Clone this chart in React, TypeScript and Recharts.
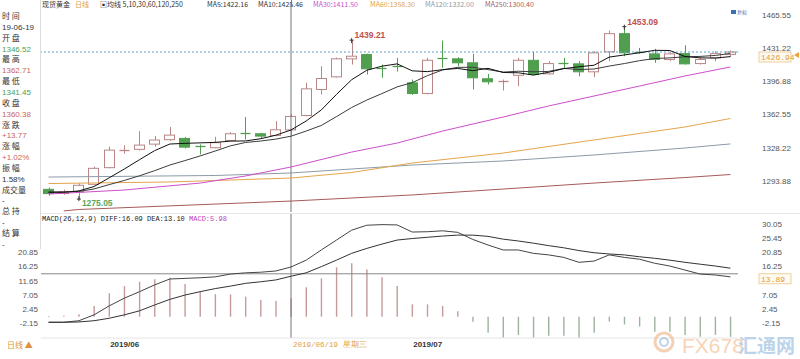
import React from "react";
import {
  ComposedChart,
  Bar,
  Line,
  XAxis,
  YAxis,
  ReferenceLine,
  ReferenceDot,
  Cell,
} from "recharts";

// trading days shown (index 16 = crosshair day)
const dates = [
  "2019/05/28", "2019/05/29", "2019/05/30", "2019/05/31",
  "2019/06/03", "2019/06/04", "2019/06/05", "2019/06/06", "2019/06/07",
  "2019/06/10", "2019/06/11", "2019/06/12", "2019/06/13", "2019/06/14",
  "2019/06/17", "2019/06/18", "2019/06/19", "2019/06/20", "2019/06/21",
  "2019/06/24", "2019/06/25", "2019/06/26", "2019/06/27", "2019/06/28",
  "2019/07/01", "2019/07/02", "2019/07/03", "2019/07/04", "2019/07/05",
  "2019/07/08", "2019/07/09", "2019/07/10", "2019/07/11", "2019/07/12",
  "2019/07/15", "2019/07/16", "2019/07/17", "2019/07/18", "2019/07/19",
  "2019/07/22", "2019/07/23", "2019/07/24", "2019/07/25", "2019/07/26",
  "2019/07/29", "2019/07/30",
];

const opens = [
  1285.1, 1280.8, 1282.7, 1290.3, 1307.5, 1325.2, 1326.4, 1331.8, 1336.4, 1337.7,
  1329.5, 1328.1, 1335.6, 1343.2, 1342.5, 1340.8, 1346.52, 1361.4, 1388.2, 1401.3,
  1419.9, 1424.3, 1410.2, 1412.4, 1395.1, 1384.1, 1420.6, 1419.9, 1415.8, 1399.3,
  1396.3, 1402.9, 1418.4, 1404.4, 1415.6, 1414.7, 1406.5, 1427.1, 1445.9, 1427.0,
  1425.0, 1419.2, 1425.3, 1415.0, 1420.9, 1424.5,
];
const highs = [
  1287.0, 1284.8, 1291.3, 1308.6, 1329.2, 1330.5, 1345.2, 1340.1, 1349.4, 1339.2,
  1331.5, 1339.4, 1344.2, 1359.7, 1343.5, 1355.6, 1362.71, 1395.1, 1412.3, 1421.2,
  1439.21, 1425.3, 1414.0, 1420.9, 1398.5, 1420.9, 1438.8, 1421.5, 1425.0, 1404.4,
  1398.5, 1420.9, 1427.1, 1417.4, 1420.9, 1417.4, 1427.7, 1449.1, 1453.09, 1431.2,
  1430.2, 1426.7, 1433.9, 1421.5, 1427.7, 1428.5,
];
const lows = [
  1278.5, 1279.5, 1275.05, 1289.3, 1306.8, 1321.9, 1325.3, 1329.2, 1335.1, 1327.4,
  1321.2, 1327.4, 1334.6, 1336.6, 1337.4, 1339.8, 1341.45, 1360.4, 1383.1, 1400.6,
  1414.0, 1403.7, 1400.3, 1406.8, 1382.6, 1383.1, 1410.6, 1412.3, 1388.2, 1393.4,
  1387.2, 1391.6, 1402.7, 1403.7, 1409.9, 1401.9, 1400.9, 1417.4, 1422.6, 1425.0,
  1415.8, 1417.4, 1414.0, 1414.0, 1417.4, 1422.0,
];
const closes = [
  1280.7, 1282.6, 1289.3, 1306.8, 1325.6, 1326.2, 1330.8, 1336.0, 1341.1, 1328.7,
  1328.8, 1333.3, 1342.5, 1342.3, 1340.1, 1346.61, 1360.38, 1388.9, 1399.6, 1419.9,
  1422.6, 1409.6, 1409.6, 1411.6, 1384.1, 1418.4, 1420.0, 1415.8, 1400.3, 1396.2,
  1396.8, 1418.4, 1403.7, 1415.0, 1415.0, 1406.5, 1426.1, 1445.9, 1426.1, 1426.4,
  1419.2, 1425.0, 1414.7, 1419.2, 1425.3, 1426.94,
];

const ma5 = [
  1282.0, 1282.0, 1283.5, 1288.0, 1297.0, 1306.1, 1315.7, 1325.1, 1331.9, 1332.6,
  1333.1, 1333.6, 1334.9, 1335.1, 1337.4, 1341.0, 1346.4, 1355.7, 1367.1, 1383.1,
  1398.3, 1408.1, 1412.3, 1414.7, 1407.5, 1406.7, 1408.7, 1410.0, 1407.7, 1410.1,
  1405.8, 1405.5, 1403.1, 1406.0, 1409.8, 1411.7, 1413.3, 1421.7, 1423.9, 1426.2,
  1428.7, 1428.5, 1422.3, 1420.9, 1420.7, 1422.2,
];
const ma10 = [
  1282.5, 1282.5, 1283.0, 1285.5, 1290.0, 1294.3, 1299.1, 1304.4, 1310.2, 1314.8,
  1319.6, 1324.7, 1330.0, 1333.5, 1335.0, 1337.0, 1340.0, 1345.3, 1351.1, 1360.2,
  1369.6, 1377.3, 1384.0, 1390.9, 1395.3, 1402.5, 1408.4, 1411.1, 1411.2, 1408.8,
  1406.2, 1407.1, 1406.5, 1406.9, 1410.0, 1408.8, 1409.4, 1412.4, 1415.0, 1418.0,
  1420.2, 1420.9, 1422.0, 1422.4, 1423.4, 1425.5,
];

// longer averages, read at a few candles
const ma30Pts: [number, number][] = [
  [0, 1280.3], [5, 1284.4], [10, 1291.6], [13, 1298.9], [16, 1308.2], [20, 1323.6],
  [23, 1332.9], [26, 1345.3], [30, 1359.8], [33, 1371.2], [36, 1381.5], [39, 1391.8],
  [42, 1402.2], [45, 1411.5],
];
const ma60Pts: [number, number][] = [
  [0, 1291.1], [8, 1292.7], [16, 1296.8], [20, 1302.5], [24, 1312.3], [30, 1322.6],
  [36, 1336.1], [42, 1349.5], [45, 1358.3],
];
const ma120Pts: [number, number][] = [
  [0, 1297.8], [11, 1299.4], [16, 1302.0], [24, 1310.2], [30, 1314.4], [36, 1320.6],
  [42, 1327.8], [45, 1332.0],
];
const ma250Pts: [number, number][] = [
  [1, 1262.8], [2, 1264.3], [16, 1273.0], [24, 1279.3], [30, 1285.4], [36, 1291.6],
  [42, 1297.3], [45, 1300.4],
];

const diff = [
  -1.8, -1.8, -1.3, 0.6, 3.5, 6.0, 8.1, 10.3, 12.2, 12.4,
  12.6, 12.9, 13.8, 14.2, 14.4, 14.8, 16.09, 18.3, 21.6, 24.8,
  28.0, 29.6, 29.8, 29.7, 27.4, 27.5, 27.8, 27.3, 25.0, 23.2,
  21.6, 21.6, 20.5, 20.0, 19.2, 17.6, 18.0, 20.0, 19.2, 18.6,
  17.3, 16.4, 15.1, 13.8, 13.5, 12.9,
];
const dea = [
  -1.8, -1.8, -1.7, -1.3, -0.5, 0.6, 1.9, 3.8, 5.6, 7.0,
  8.1, 9.1, 9.9, 10.8, 11.3, 11.9, 13.1, 14.2, 16.2, 18.3,
  20.5, 22.1, 23.5, 24.8, 25.3, 25.7, 26.1, 26.4, 26.4, 26.0,
  25.1, 24.5, 23.8, 23.0, 22.3, 21.4, 20.7, 20.3, 20.0, 19.4,
  18.9, 18.3, 17.6, 17.0, 16.4, 15.7,
];
const hist = [
  0.2, 0.3, 0.8, 3.5, 7.6, 9.9, 11.3, 12.1, 12.6, 10.6,
  8.1, 7.3, 7.2, 6.5, 5.4, 5.1, 5.98, 9.5, 12.4, 16.0,
  17.3, 15.3, 12.8, 9.9, 4.0, 4.0, 3.5, 1.8, -1.6, -5.2,
  -6.8, -5.9, -6.8, -6.2, -6.2, -6.8, -5.2, -1.6, -2.5, -3.2,
  -4.9, -4.9, -5.9, -6.5, -5.9, -6.5,
];

const priceTicks = [1465.55, 1431.22, 1396.88, 1362.55, 1328.22, 1293.88];
const macdTicksLeft = [30.05, 25.45, 20.85, 16.25, 11.65, 7.05, 2.45, -2.15];
const macdTicksRight = [30.05, 25.45, 20.85, 16.25, 7.05, 2.45, -2.15];
const monthLabels: Record<number, string> = { 4: "2019/06", 24: "2019/07" };
const cursorIndex = 16;
const cursorLabel = "2019/06/19 星期三";
const lastPrice = 1426.94;
const cursorMacd = 13.89;

const infoRows: [string, string][] = [
  ["时 间", "#333"], ["19-06-19", "#333"],
  ["开 盘", "#333"], ["1346.52", "#4e9e4e"],
  ["最 高", "#333"], ["1362.71", "#c86464"],
  ["最 低", "#333"], ["1341.45", "#4e9e4e"],
  ["收 盘", "#333"], ["1360.38", "#c86464"],
  ["涨 跌", "#333"], ["+13.77", "#c86464"],
  ["涨 幅", "#333"], ["+1.02%", "#c86464"],
  ["振 幅", "#333"], ["1.58%", "#333"],
  ["成交量", "#333"], ["-", "#333"],
  ["总 持", "#333"], ["-", "#333"],
  ["结 算", "#333"], ["-", "#333"],
];

const legendItems: [number, string, string][] = [
  [42, "#333", "现货黄金"],
  [75, "#e0a040", "日线"],
  [100, "#333", "▣均线 5,10,30,60,120,250"],
  [207, "#333", "MA5:1422.16"],
  [258, "#333", "MA10:1425.46"],
  [313, "#cc4fcc", "MA30:1411.50"],
  [370, "#e2a54a", "MA60:1358.30"],
  [425, "#8d9aa8", "MA120:1332.00"],
  [485, "#a85a5a", "MA250:1300.40"],
];

const UP = "#b98585";
const DOWN = "#4f9f4f";
const NUM = "'Liberation Sans', Arial, sans-serif";
const CJK = "'Noto Sans CJK SC', 'Liberation Sans', sans-serif";
const MONO = "'Liberation Mono', 'DejaVu Sans Mono', monospace";

const lookup = (pts: [number, number][]) => {
  const m = new Map(pts);
  return (i: number) => (m.has(i) ? (m.get(i) as number) : null);
};
const l30 = lookup(ma30Pts);
const l60 = lookup(ma60Pts);
const l120 = lookup(ma120Pts);
const l250 = lookup(ma250Pts);

const priceData = dates.map((date, i) => ({
  date,
  open: opens[i],
  high: highs[i],
  low: lows[i],
  close: closes[i],
  range: [lows[i], highs[i]],
  ma5: ma5[i],
  ma10: ma10[i],
  ma30: l30(i),
  ma60: l60(i),
  ma120: l120(i),
  ma250: l250(i),
}));

const macdData = dates.map((date, i) => ({
  date,
  diff: diff[i],
  dea: dea[i],
  hist: hist[i],
}));

const Candle = (props: any) => {
  const { x, y, width, height, payload } = props;
  const { open, close, high, low } = payload;
  const top = Math.min(y, y + height);
  const h = Math.abs(height);
  const k = high === low ? 0 : h / (high - low);
  const yO = top + (high - open) * k;
  const yC = top + (high - close) * k;
  const cx = Math.round(x + width / 2) + 0.5;
  const up = close >= open;
  const color = up ? UP : DOWN;
  const bTop = Math.min(yO, yC);
  const bBot = Math.max(yO, yC);
  const bx = Math.round(x) + 0.5;
  const bw = Math.round(width) - 1;
  if (bBot - bTop < 1.5) {
    return (
      <g>
        <line x1={cx} x2={cx} y1={top} y2={top + h} stroke={color} />
        <line x1={bx} x2={bx + bw} y1={Math.round(bTop) + 0.5} y2={Math.round(bTop) + 0.5} stroke={color} strokeWidth={1.3} />
      </g>
    );
  }
  return (
    <g>
      <line x1={cx} x2={cx} y1={top} y2={bTop} stroke={color} />
      <line x1={cx} x2={cx} y1={bBot} y2={top + h} stroke={color} />
      <rect
        x={bx}
        y={bTop}
        width={bw}
        height={bBot - bTop}
        fill={up ? "#fff" : color}
        stroke={color}
      />
    </g>
  );
};

const HighMark = ({ cx, cy, text }: any) => (
  <g>
    <line x1={cx - 2} x2={cx + 2} y1={cy} y2={cy} stroke="#333" />
    <line x1={cx} x2={cx} y1={cy - 2} y2={cy + 3} stroke="#333" />
    <text x={cx + 3} y={cy - 2} fontSize={8.5} fontWeight={600} fill="#c0504d" fontFamily={NUM}>
      {text}
    </text>
  </g>
);

const LowMark = ({ cx, cy, text }: any) => (
  <g>
    <line x1={cx - 2} x2={cx + 2} y1={cy} y2={cy} stroke="#333" />
    <line x1={cx} x2={cx} y1={cy - 3} y2={cy + 2} stroke="#333" />
    <text x={cx + 3} y={cy + 7} fontSize={8.5} fontWeight={600} fill="#5aa55a" fontFamily={NUM}>
      {text}
    </text>
  </g>
);

const PriceTick = (p: any) => (
  <text x={762} y={p.y + 3} fontSize={8} fill="#555" fontFamily={NUM}>
    {Number(p.payload.value).toFixed(2)}
  </text>
);

const MacdTickRight = (p: any) => (
  <text x={762} y={p.y + 3} fontSize={8} fill="#555" fontFamily={NUM}>
    {Number(p.payload.value).toFixed(2)}
  </text>
);

const MacdTickLeft = (p: any) => (
  <text x={38} y={p.y + 3} fontSize={8} fill="#555" fontFamily={NUM} textAnchor="end">
    {Number(p.payload.value).toFixed(2)}
  </text>
);

const DateTick = (p: any) => {
  const idx = p.payload.index;
  if (idx === cursorIndex) {
    return (
      <text x={p.x + 2} y={134} fontSize={7.5} fill="#e0a040" fontFamily={MONO}>
        {cursorLabel}
      </text>
    );
  }
  const lbl = monthLabels[idx];
  if (!lbl) return <g />;
  return (
    <text x={p.x + 1} y={134} fontSize={8} fontWeight={700} fill="#333" fontFamily={NUM}>
      {lbl}
    </text>
  );
};

const valueBox = (text: string) => (p: any) => {
  const vb = p.viewBox || {};
  const y = vb.y ?? 0;
  const x = (vb.x ?? 0) + (vb.width ?? 0) + 21;
  return (
    <g>
      <rect x={x} y={y} width={32} height={10} fill="#fffaf0" stroke="#e7c48a" strokeWidth={0.8} />
      <text x={x + 2} y={y + 8} fontSize={8} fill="#e09a3a" fontFamily={MONO}>
        {text}
      </text>
    </g>
  );
};

export default function App() {
  return (
    <div
      style={{
        position: "absolute",
        left: 0,
        top: 0,
        width: 800,
        height: 359,
        background: "#fff",
        overflow: "hidden",
      }}
    >
      <div style={{ position: "absolute", left: 0, top: 0 }}>
        <ComposedChart
          width={800}
          height={213}
          data={priceData}
          margin={{ top: 5, right: 0, bottom: 1, left: 41 }}
        >
          <XAxis dataKey="date" hide />
          <YAxis
            orientation="right"
            width={62}
            domain={[1261.7, 1475.5]}
            ticks={priceTicks}
            interval={0}
            axisLine={false}
            tickLine={false}
            tick={PriceTick}
            allowDataOverflow
          />
          <ReferenceLine x={dates[cursorIndex]} stroke="#777" />
          <ReferenceLine
            y={lastPrice}
            stroke="#5da3c9"
            strokeDasharray="2 2"
            label={valueBox(lastPrice.toFixed(2))}
          />
          <Line dataKey="ma250" stroke="#a85a5a" dot={false} strokeWidth={1} connectNulls isAnimationActive={false} />
          <Line dataKey="ma120" stroke="#8d9aa8" dot={false} strokeWidth={1} connectNulls isAnimationActive={false} />
          <Line dataKey="ma60" stroke="#e2a54a" dot={false} strokeWidth={1} connectNulls isAnimationActive={false} />
          <Line dataKey="ma30" stroke="#cc4fcc" dot={false} strokeWidth={1} connectNulls isAnimationActive={false} />
          <Bar dataKey="range" barSize={11} shape={Candle} isAnimationActive={false} />
          <Line dataKey="ma10" stroke="#3c3c3c" dot={false} strokeWidth={1} isAnimationActive={false} />
          <Line dataKey="ma5" stroke="#111" dot={false} strokeWidth={1} isAnimationActive={false} />
          <ReferenceDot x={dates[20]} y={highs[20]} r={0} shape={(p: any) => <HighMark {...p} text="1439.21" />} />
          <ReferenceDot x={dates[38]} y={highs[38]} r={0} shape={(p: any) => <HighMark {...p} text="1453.09" />} />
          <ReferenceDot x={dates[2]} y={lows[2]} r={0} shape={(p: any) => <LowMark {...p} text="1275.05" />} />
        </ComposedChart>
      </div>

      <div style={{ position: "absolute", left: 0, top: 213 }}>
        <ComposedChart
          width={800}
          height={146}
          data={macdData}
          margin={{ top: 0, right: 0, bottom: 0, left: 0 }}
        >
          <XAxis
            dataKey="date"
            height={21}
            interval={0}
            tickLine={false}
            axisLine={{ stroke: "#e6e6e6" }}
            tick={DateTick}
          />
          <YAxis
            yAxisId="l"
            orientation="left"
            width={41}
            domain={[-6.89, 33.56]}
            ticks={macdTicksLeft}
            interval={0}
            axisLine={false}
            tickLine={false}
            tick={MacdTickLeft}
          />
          <YAxis
            yAxisId="r"
            orientation="right"
            width={62}
            domain={[-6.89, 33.56]}
            ticks={macdTicksRight}
            interval={0}
            axisLine={false}
            tickLine={false}
            tick={MacdTickRight}
          />
          <ReferenceLine yAxisId="r" x={dates[cursorIndex]} stroke="#777" />
          <ReferenceLine
            yAxisId="r"
            y={cursorMacd}
            stroke="#888"
            label={valueBox(cursorMacd.toFixed(2))}
          />
          <Bar yAxisId="l" dataKey="hist" barSize={1.4} isAnimationActive={false}>
            {hist.map((v, i) => (
              <Cell key={i} fill={v >= 0 ? "#c49a9a" : "#9db39d"} />
            ))}
          </Bar>
          <Line yAxisId="r" dataKey="diff" stroke="#444" dot={false} strokeWidth={1} isAnimationActive={false} />
          <Line yAxisId="r" dataKey="dea" stroke="#333" dot={false} strokeWidth={1} isAnimationActive={false} />
        </ComposedChart>
      </div>

      <svg
        width={800}
        height={359}
        style={{ position: "absolute", left: 0, top: 0, pointerEvents: "none" }}
      >
        {/* legend row */}
        {legendItems.map(([x, c, t], i) => (
          <text key={i} x={x} y={7} fontSize={7} fill={c} fontFamily={CJK}>
            {t}
          </text>
        ))}
        <rect x={731} y={10} width={5} height={4} fill="#3b6fb6" />
        <text x={737} y={14} fontSize={5} fill="#3b6fb6" fontFamily={CJK}>复权</text>
        <path d="M794 55 L799 52 L799 58 Z" fill="#e8a040" />
        <line x1={291.5} x2={291.5} y1={0} y2={6} stroke="#777" />

        {/* panel separator */}
        <line x1={41} x2={800} y1={213.5} y2={213.5} stroke="#e8e8e8" />

        {/* info panel */}
        <rect x={0} y={0} width={40} height={249} fill="#fff" />
        <line x1={40.5} x2={40.5} y1={0} y2={249} stroke="#dcdcdc" />
        {infoRows.map(([t, c], i) => (
          <text
            key={i}
            x={2}
            y={19 + i * 10.85}
            fontSize={8}
            fill={c}
            fontFamily={i % 2 === 0 ? CJK : NUM}
          >
            {t}
          </text>
        ))}

        {/* MACD title */}
        <text x={42} y={221} fontSize={7} fill="#222" fontFamily={MONO}>
          MACD(26,12,9) DIFF:16.09 DEA:13.10{" "}
          <tspan fill="#c040c0">MACD:5.98</tspan>
        </text>

        <text x={7} y={348} fontSize={8} fill="#e0903a" fontFamily={CJK}>
          日线 ▲
        </text>

        {/* watermark */}
        <g opacity={0.45}>
          <circle cx={664} cy={342} r={9} fill="none" stroke="#e79a5a" strokeWidth={3} />
          <circle cx={664} cy={342} r={4} fill="none" stroke="#6f9fd0" strokeWidth={2} />
          <text x={682} y={353} fontSize={21} fill="#f0a060" fontFamily={NUM}>
            FX678
          </text>
          <text x={738} y={353} fontSize={19} fontWeight={700} fill="#6f9fd0" fontFamily={CJK}>
            汇通网
          </text>
        </g>
      </svg>
    </div>
  );
}
